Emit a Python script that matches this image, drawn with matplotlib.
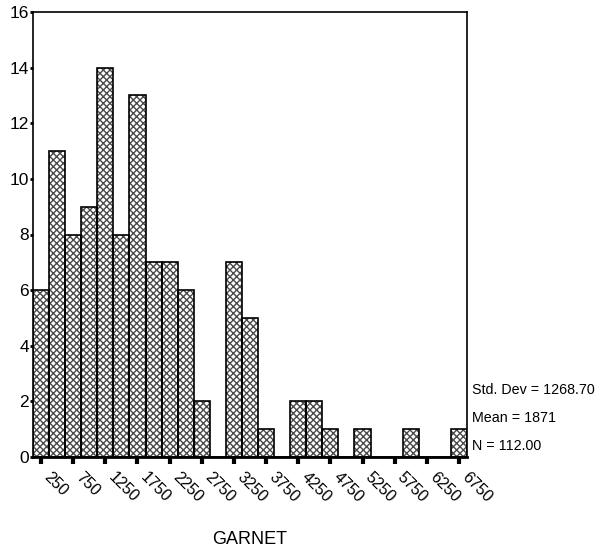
import numpy as np
import matplotlib.pyplot as plt

plt.rcParams['font.family'] = ['Liberation Sans', 'DejaVu Sans']

# histogram bins (width 250) and counts
bin_centers = np.arange(250, 7000, 250)
counts = [6, 11, 8, 9, 14, 8, 13, 7, 7, 6, 2, 0, 7, 5, 1, 0,
          2, 2, 1, 0, 1, 0, 0, 1, 0, 0, 1]
tick_values = np.arange(250, 7000, 500)
stats_lines = ["Std. Dev = 1268.70", "Mean = 1871", "N = 112.00"]

fig = plt.figure(figsize=(5.97, 5.52), dpi=100)
ax = fig.add_axes([33 / 597, 1 - 457 / 552, 434 / 597, 445 / 552])

# hatch layer then black outline
ax.bar(bin_centers, counts, width=250, color='white', hatch='xxxxx',
       edgecolor='#4a4a4a', linewidth=0)
ax.bar(bin_centers, counts, width=250, fill=False, edgecolor='black',
       linewidth=1.2)

ax.set_xlim(125, 6875)
ax.set_ylim(0, 16)
ax.set_yticks(np.arange(0, 17, 2))
ax.set_xticks(tick_values)
ax.set_xticklabels([str(v) for v in tick_values], rotation=-45,
                   ha='left', va='top', fontsize=11.5)
ax.tick_params(axis='x', length=5, width=3, direction='out', pad=4)
ax.tick_params(axis='y', length=2, width=2, direction='out', pad=1,
               labelsize=12.5)
for s in ax.spines.values():
    s.set_linewidth(1.2)
ax.spines['bottom'].set_linewidth(2)

for i, line in enumerate(stats_lines):
    fig.text(472 / 597, 1 - (390 + 28 * i) / 552, line, fontsize=10.3,
             va='center', ha='left')

fig.text(250 / 597, 1 - 540 / 552, "GARNET", fontsize=13,
         ha='center', va='center')

fig.savefig('out.png', dpi=100)
